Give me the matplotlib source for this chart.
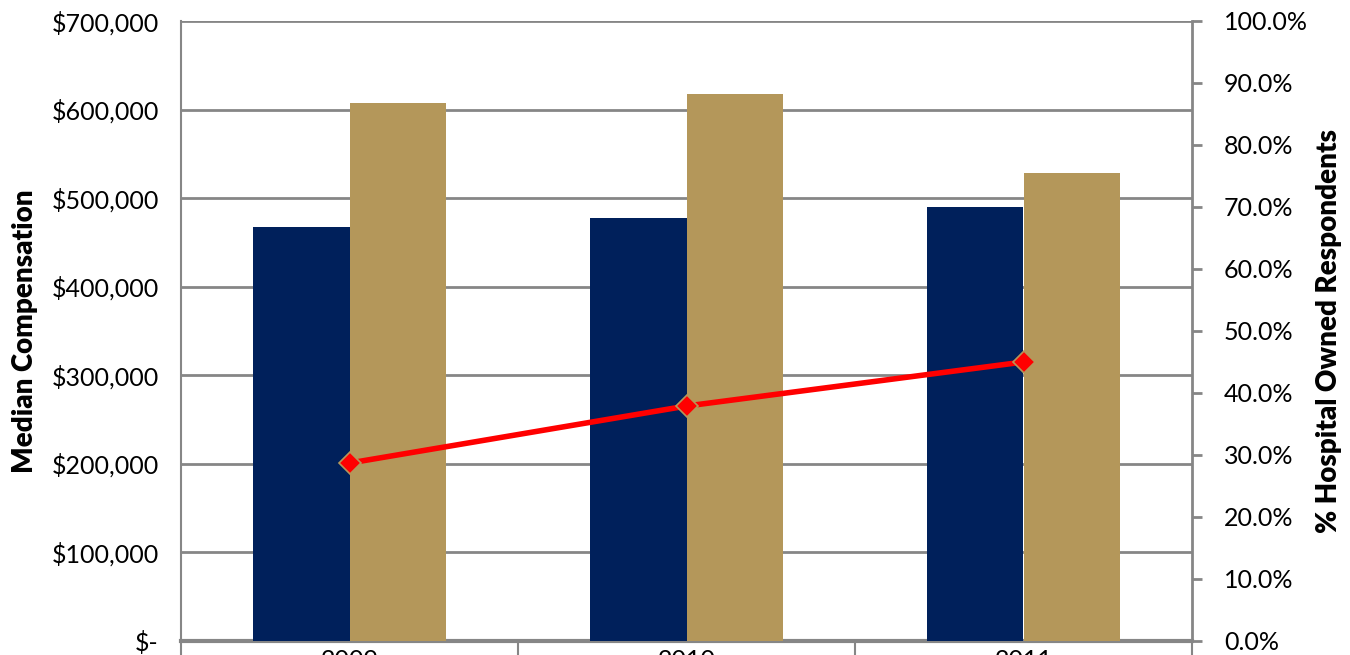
import matplotlib
matplotlib.use("Agg")
import matplotlib.pyplot as plt
import numpy as np
from matplotlib.ticker import FuncFormatter, MultipleLocator

plt.rcParams['font.family'] = ['Lato', 'DejaVu Sans']

years = ['2009', '2010', '2011']
comp_navy = [467000, 477500, 489500]
comp_gold = [607500, 617500, 528000]
pct_hospital = [28.7, 37.9, 45.0]

navy = '#00205B'
gold = '#B4975A'
grey = '#868686'

fig = plt.figure(figsize=(13.5, 6.55), dpi=100)
ax = fig.add_axes([181 / 1350, 14 / 655, (1192 - 181) / 1350, (641 - 21) / 655])

x = np.arange(len(years))
w = 0.285
ax.bar(x - w / 2, comp_navy, w, color=navy, zorder=3)
ax.bar(x + w / 2, comp_gold, w, color=gold, zorder=3)

ax.set_xlim(-0.5, 2.5)
ax.set_ylim(0, 700000)
ax.yaxis.set_major_locator(MultipleLocator(100000))


def money(v, pos):
    if v == 0:
        return '$-'
    return '${:,.0f}'.format(v)


ax.yaxis.set_major_formatter(FuncFormatter(money))
ax.grid(axis='y', color=grey, linewidth=2, zorder=0)
ax.tick_params(axis='y', length=0, pad=16, labelsize=18)

# category labels and separators
ax.set_xticks(x)
ax.set_xticklabels(years, fontsize=18)
ax.tick_params(axis='x', which='major', length=0, pad=6)
ax.set_xticks([-0.5, 0.5, 1.5, 2.5], minor=True)
ax.tick_params(axis='x', which='minor', length=20, width=1.5, color=grey)

for s in ['top', 'right']:
    ax.spines[s].set_visible(False)
ax.spines['left'].set_color(grey)
ax.spines['left'].set_linewidth(1.5)
ax.spines['bottom'].set_color(grey)
ax.spines['bottom'].set_linewidth(3)

ax.set_ylabel('Median Compensation', fontsize=20, fontweight='heavy', labelpad=10)

ax2 = ax.twinx()
ax2.plot(x, pct_hospital, color='#FF0000', linewidth=4, marker='D', markersize=11,
         markerfacecolor='#FF0000', markeredgecolor=gold, markeredgewidth=1.2, zorder=5)
ax2.set_ylim(0, 100)
ax2.yaxis.set_major_locator(MultipleLocator(10))
ax2.yaxis.set_major_formatter(FuncFormatter(lambda v, p: '{:.1f}%'.format(v)))
ax2.tick_params(axis='y', length=7, width=2, color=grey, pad=16, labelsize=18)
for s in ['top', 'left', 'bottom']:
    ax2.spines[s].set_visible(False)
ax2.spines['right'].set_color(grey)
ax2.spines['right'].set_linewidth(2)
ax2.set_ylabel('% Hospital Owned Respondents', fontsize=20, fontweight='heavy', labelpad=6)

fig.savefig('out.png', dpi=100)
